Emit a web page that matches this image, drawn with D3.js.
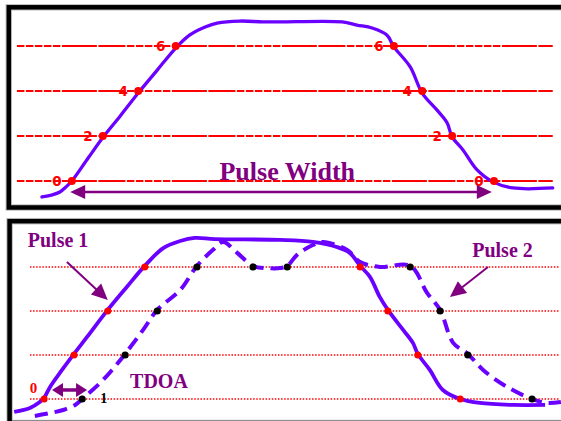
<!DOCTYPE html>
<html><head><meta charset="utf-8">
<script src="https://cdn.jsdelivr.net/npm/d3@7"></script>
<style>html,body{margin:0;padding:0;background:#fff;}svg{display:block;}</style>
</head><body>
<script>
// ---- data (time t in arbitrary units 0..100, amplitude in threshold units) ----
const topLevels = [0, 2, 4, 6];
const topPulseT = [5.5,7.4,8.8,9.9,11.0,14.0,16.7,19.9,23.2,26.7,30.1,32.7,35.5,37.7,41.9,46.1,49.3,60.7,63.4,66.2,68.9,70.2,73.2,75.4,78.1,80.0,80.9,82.9,85.5,88.4,92.1,99.4];
const topPulseA = [-0.71,-0.62,-0.49,-0.27,0,1.02,1.93,2.89,3.91,4.93,5.91,6.49,6.84,7.02,7.11,7.07,7.07,7.07,6.93,6.8,6.49,5.96,5.07,3.91,3.16,2.58,1.96,1.38,0.49,-0.04,-0.31,-0.31];
const topRiseT = [11.0, 16.7, 23.2, 30.1];
const topFallT = [88.6, 80.9, 75.4, 70.2];
const topLevelLabels = ["0", "2", "4", "6"];
const pulseWidthT = [10.7, 88.2];
const pulseWidthA = -0.49;

const botLevels = [0, 2, 4, 6];
const pulse1T = [0.4,3.3,5.1,5.9,7.0,9.2,11.4,13.8,17.6,21.1,24.4,27.8,30.9,33.6,37.3,49.3,55.3,59.7,62.1,64.0,65.8,67.6,69.1,71.9,73.7,74.6,76.8,79.2,82.4,86.0,92.1,98.0];
const pulse1A = [-0.59,-0.41,-0.14,0.05,0.55,1.32,2.05,2.82,4.05,5.09,6.05,6.86,7.18,7.32,7.27,7.23,7.14,6.91,6.64,6.05,5.55,4.64,4.05,3.14,2.55,2.05,1.32,0.41,0,-0.18,-0.27,-0.27];
const pulse2T = [4.2,7.0,9.4,11.6,12.9,16.2,18.4,20.8,24.1,26.7,30.9,34.0,36.9,38.8,41.4,44.3,46.9,49.3,50.6,52.4,55.3,57.2,61.6,64.0,67.6,73.2,76.3,78.7,81.1,83.8,86.6,91.0,95.6,98.3,100.9];
const pulse2A = [-0.77,-0.64,-0.5,-0.27,0,0.73,1.32,2.05,3.14,4.05,4.95,6.05,6.77,7.14,6.64,6.05,5.95,5.95,6.05,6.55,7.0,7.14,6.77,6.23,6.0,6.05,4.82,4.05,2.55,2.05,1.32,0.55,0,-0.18,-0.14];
const pulse1DotT = [5.9, 11.4, 17.6, 24.4, 64.0, 69.1, 74.6, 82.4];
const pulse1DotA = [0, 2, 4, 6, 6, 4, 2, 0];
const pulse2DotT = [12.9, 20.8, 26.7, 34.0, 44.3, 50.6, 73.2, 78.7, 83.8, 95.6];
const pulse2DotA = [0, 2, 4, 6, 6, 6, 6, 4, 2, 0];
const tdoaT = [7.35, 13.8];
const tdoaA = 0.41;
const pulse1Arrow = {t: [10.1, 17.6], a: [6.23, 4.5]};
const pulse2Arrow = {t: [87.5, 80.5], a: [6.0, 4.64]};

// ---- drawing ----
const W = 561, H = 421;
const svg = d3.select("body").append("svg").attr("width", W).attr("height", H);
svg.append("rect").attr("width", W).attr("height", H).attr("fill", "#fff");

const x = d3.scaleLinear().domain([0, 100]).range([12, 556]);
const yTop = d3.scaleLinear().domain([0, 6]).range([181, 46]);
const yBot = d3.scaleLinear().domain([0, 6]).range([399, 267]);

const PURPLE_LINE = "#6a00ff";
const PURPLE_TEXT = "#800080";
const serif = "'Liberation Serif','Times New Roman',serif";

// frames
function frame(x0, y0, x1, y1) {
  svg.append("rect").attr("x", x0).attr("y", y0).attr("width", x1 - x0).attr("height", y1 - y0)
    .attr("fill", "none").attr("stroke", "#bdbdbd").attr("stroke-width", 6.5);
  svg.append("rect").attr("x", x0).attr("y", y0).attr("width", x1 - x0).attr("height", y1 - y0)
    .attr("fill", "none").attr("stroke", "#000").attr("stroke-width", 4.5);
}
frame(8.8, 7.3, 575, 207.5);
frame(9.6, 221.2, 575, 423);

function arrowHead(g, tipX, tipY, fromX, fromY, len, half, color) {
  const ang = Math.atan2(tipY - fromY, tipX - fromX);
  const bx = tipX - len * Math.cos(ang), by = tipY - len * Math.sin(ang);
  const px = -Math.sin(ang) * half, py = Math.cos(ang) * half;
  g.append("path").attr("d", `M${tipX},${tipY}L${bx + px},${by + py}L${bx - px},${by - py}Z`).attr("fill", color);
}

// ---- top panel ----
const gT = svg.append("g");
gT.selectAll("line.lvl").data(topLevels).join("line")
  .attr("x1", x(0.9)).attr("x2", x(99.4))
  .attr("y1", d => yTop(d)).attr("y2", d => yTop(d))
  .attr("stroke", "#ff0000").attr("stroke-width", 2)
  .attr("stroke-dasharray", "7.5,1.5,7.5,1.5,7.5,1.5,7.5,1.5,7.5,1.5,35,1.5,27,1.5");

const topPts = topPulseT.map((t, i) => [x(t), yTop(topPulseA[i])]);
gT.append("path").attr("d", d3.line().curve(d3.curveCatmullRom.alpha(0.5))(topPts))
  .attr("fill", "none").attr("stroke", PURPLE_LINE).attr("stroke-width", 3.3).attr("stroke-linecap", "round");

const topDots = topLevels.map((l, i) => ({t: topRiseT[i], a: l, lab: topLevelLabels[i]}))
  .concat(topLevels.map((l, i) => ({t: topFallT[i], a: l, lab: topLevelLabels[i]})));
gT.selectAll("circle").data(topDots).join("circle")
  .attr("cx", d => x(d.t)).attr("cy", d => yTop(d.a)).attr("r", 4).attr("fill", "#ff0000");
gT.selectAll("text.lab").data(topDots).join("text")
  .attr("x", d => x(d.t) - 15).attr("y", d => yTop(d.a) + 5)
  .attr("text-anchor", "middle").attr("fill", "#ff0000")
  .attr("font-family", "'DejaVu Sans',sans-serif").attr("font-weight", "bold").attr("font-size", 13.5)
  .text(d => d.lab);

// pulse width arrow
const pwY = yTop(pulseWidthA);
gT.append("line").attr("x1", x(pulseWidthT[0]) + 10).attr("x2", x(pulseWidthT[1]) - 10)
  .attr("y1", pwY).attr("y2", pwY).attr("stroke", PURPLE_TEXT).attr("stroke-width", 2.5);
arrowHead(gT, x(pulseWidthT[0]), pwY, x(pulseWidthT[1]), pwY, 15, 7, PURPLE_TEXT);
arrowHead(gT, x(pulseWidthT[1]), pwY, x(pulseWidthT[0]), pwY, 15, 7, PURPLE_TEXT);
gT.append("text").attr("x", x(50.6)).attr("y", yTop(0.04)).attr("text-anchor", "middle")
  .attr("font-family", serif).attr("font-weight", "bold").attr("font-size", 26).attr("fill", PURPLE_TEXT)
  .text("Pulse Width");

// ---- bottom panel ----
const gB = svg.append("g");
gB.selectAll("line.lvl").data(botLevels).join("line")
  .attr("x1", x(3.3)).attr("x2", x(100.7))
  .attr("y1", d => yBot(d)).attr("y2", d => yBot(d))
  .attr("stroke", "#ff0000").attr("stroke-width", 1.5).attr("stroke-dasharray", "1.5,1.6");

const line = d3.line().curve(d3.curveCatmullRom.alpha(0.5));
gB.append("path").attr("d", line(pulse1T.map((t, i) => [x(t), yBot(pulse1A[i])])))
  .attr("fill", "none").attr("stroke", PURPLE_LINE).attr("stroke-width", 3.8);
gB.append("path").attr("d", line(pulse2T.map((t, i) => [x(t), yBot(pulse2A[i])])))
  .attr("fill", "none").attr("stroke", PURPLE_LINE).attr("stroke-width", 4).attr("stroke-dasharray", "13,7");

gB.selectAll("circle.p1").data(pulse1DotT).join("circle").attr("class", "p1")
  .attr("cx", d => x(d)).attr("cy", (d, i) => yBot(pulse1DotA[i])).attr("r", 3.5).attr("fill", "#ff0000");
gB.selectAll("circle.p2").data(pulse2DotT).join("circle").attr("class", "p2")
  .attr("cx", d => x(d)).attr("cy", (d, i) => yBot(pulse2DotA[i])).attr("r", 3.6).attr("fill", "#000");

// arrows
function pointer(a) {
  const x0 = x(a.t[0]), y0 = yBot(a.a[0]), x1 = x(a.t[1]), y1 = yBot(a.a[1]);
  const ang = Math.atan2(y1 - y0, x1 - x0);
  gB.append("line").attr("x1", x0).attr("y1", y0).attr("x2", x1 - 10 * Math.cos(ang)).attr("y2", y1 - 10 * Math.sin(ang))
    .attr("stroke", PURPLE_TEXT).attr("stroke-width", 2);
  arrowHead(gB, x1, y1, x0, y0, 16, 7.5, PURPLE_TEXT);
}
pointer(pulse1Arrow);
pointer(pulse2Arrow);

const tdY = yBot(tdoaA);
gB.append("line").attr("x1", x(tdoaT[0]) + 8).attr("x2", x(tdoaT[1]) - 8).attr("y1", tdY).attr("y2", tdY)
  .attr("stroke", PURPLE_TEXT).attr("stroke-width", 3.5);
arrowHead(gB, x(tdoaT[0]), tdY, x(tdoaT[1]), tdY, 11, 7, PURPLE_TEXT);
arrowHead(gB, x(tdoaT[1]), tdY, x(tdoaT[0]), tdY, 11, 7, PURPLE_TEXT);

function label(txt, t, a, size, color, anchor) {
  gB.append("text").attr("x", x(t)).attr("y", yBot(a)).attr("text-anchor", anchor || "start")
    .attr("font-family", serif).attr("font-weight", "bold").attr("font-size", size).attr("fill", color).text(txt);
}
label("Pulse 1", 2.9, 6.91, 20, PURPLE_TEXT);
label("Pulse 2", 84.6, 6.45, 20, PURPLE_TEXT);
label("TDOA", 21.7, 0.5, 20, PURPLE_TEXT);
label("0", 3.95, 0.27, 15, "#ff0000", "middle");
label("1", 16.2, -0.2, 14, "#000");
</script>
</body></html>
